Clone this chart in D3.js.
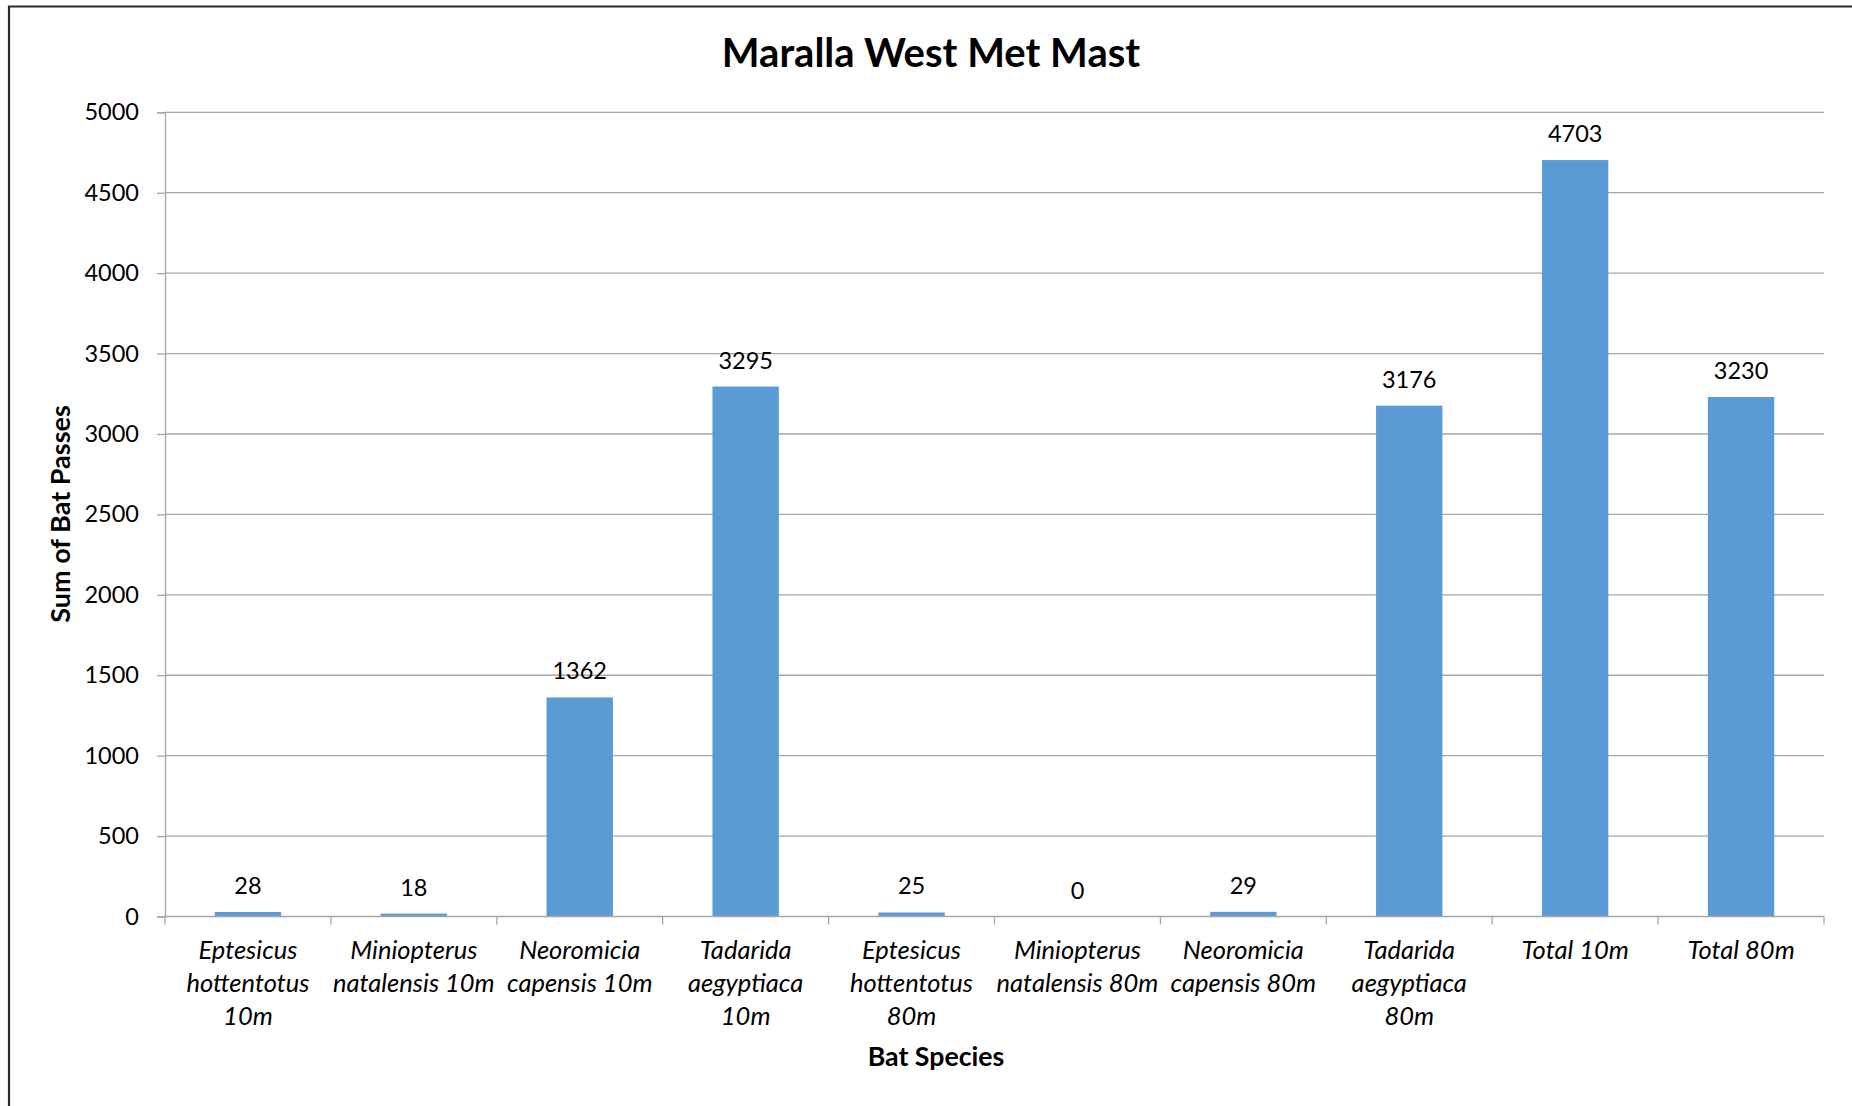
<!DOCTYPE html>
<html>
<head>
<meta charset="utf-8">
<script src="https://cdn.jsdelivr.net/npm/d3@7"></script>
<style>
  html, body { margin: 0; padding: 0; background: #fff; }
  svg { display: block; }
  text { font-family: Lato, "Open Sans", sans-serif; fill: #000; }
</style>
</head>
<body>
<script>
const categories = [
  "Eptesicus hottentotus 10m",
  "Miniopterus natalensis 10m",
  "Neoromicia capensis 10m",
  "Tadarida aegyptiaca 10m",
  "Eptesicus hottentotus 80m",
  "Miniopterus natalensis 80m",
  "Neoromicia capensis 80m",
  "Tadarida aegyptiaca 80m",
  "Total 10m",
  "Total 80m"
];
const categoryLines = [
  ["Eptesicus", "hottentotus", "10m"],
  ["Miniopterus", "natalensis 10m"],
  ["Neoromicia", "capensis 10m"],
  ["Tadarida", "aegyptiaca", "10m"],
  ["Eptesicus", "hottentotus", "80m"],
  ["Miniopterus", "natalensis 80m"],
  ["Neoromicia", "capensis 80m"],
  ["Tadarida", "aegyptiaca", "80m"],
  ["Total 10m"],
  ["Total 80m"]
];
const values = [28, 18, 1362, 3295, 25, 0, 29, 3176, 4703, 3230];
const yTicks = [0, 500, 1000, 1500, 2000, 2500, 3000, 3500, 4000, 4500, 5000];
const title = "Maralla West Met Mast";
const xTitle = "Bat Species";
const yTitle = "Sum of Bat Passes";

const W = 1852, H = 1106;
const plot = { left: 165, right: 1824, top: 112.3, bottom: 916.5 };

const svg = d3.select("body").append("svg").attr("width", W).attr("height", H);

// chart border (left + top visible)
svg.append("path")
  .attr("d", `M9,${H} L9,6.5 L${W},6.5`)
  .attr("fill", "none").attr("stroke", "#2b2b2b").attr("stroke-width", 2.2);

const x = d3.scaleBand().domain(categories).range([plot.left, plot.right])
  .paddingInner(0.6).paddingOuter(0.3);
const y = d3.scaleLinear().domain([0, 5000]).range([plot.bottom, plot.top]);

// gridlines
svg.append("g").selectAll("line").data(yTicks.filter(d => d > 0)).join("line")
  .attr("x1", plot.left).attr("x2", plot.right)
  .attr("y1", d => y(d)).attr("y2", d => y(d))
  .attr("stroke", "#a6a6a6").attr("stroke-width", 1.3);

// y axis
const yAxis = svg.append("g").attr("transform", `translate(${plot.left},0)`)
  .call(d3.axisLeft(y).tickValues(yTicks).tickSize(8).tickPadding(18).tickFormat(d3.format("d")));
yAxis.select(".domain").attr("stroke", "#a6a6a6").attr("stroke-width", 1.3);
yAxis.selectAll(".tick line").attr("stroke", "#a6a6a6").attr("stroke-width", 1.3);
yAxis.selectAll(".tick text").attr("font-size", 23.5).attr("font-family", "Lato, sans-serif").attr("fill", "#000");

// bars
svg.append("g").selectAll("rect").data(values).join("rect")
  .attr("x", (d, i) => x(categories[i]))
  .attr("width", x.bandwidth())
  .attr("y", d => y(d))
  .attr("height", d => y(0) - y(d))
  .attr("fill", "#5b9bd5");

// x axis with ticks at category boundaries
const boundaries = d3.range(categories.length + 1).map(i => plot.left + i * (plot.right - plot.left) / categories.length);
const xg = svg.append("g");
xg.append("line").attr("x1", plot.left).attr("x2", plot.right)
  .attr("y1", y(0)).attr("y2", y(0)).attr("stroke", "#a6a6a6").attr("stroke-width", 1.3);
xg.selectAll("line.tk").data(boundaries).join("line").attr("class", "tk")
  .attr("x1", d => d).attr("x2", d => d)
  .attr("y1", y(0)).attr("y2", y(0) + 8)
  .attr("stroke", "#a6a6a6").attr("stroke-width", 1.3);

// category labels
const lab = svg.append("g").selectAll("text").data(categories).join("text")
  .attr("text-anchor", "middle")
  .attr("font-size", 25.5).attr("font-style", "italic");
lab.each(function(d, i) {
  const cx = x(d) + x.bandwidth() / 2;
  d3.select(this).selectAll("tspan").data(categoryLines[i]).join("tspan")
    .attr("x", cx)
    .attr("y", (l, j) => y(0) + 42 + j * 33)
    .text(l => l);
});

// data labels
svg.append("g").selectAll("text").data(values).join("text")
  .attr("x", (d, i) => x(categories[i]) + x.bandwidth() / 2)
  .attr("y", d => y(d) - 18)
  .attr("text-anchor", "middle").attr("font-size", 23.5)
  .text(d => d);

// titles
svg.append("text").attr("x", 931).attr("y", 67).attr("text-anchor", "middle")
  .attr("font-size", 40).attr("font-weight", "bold").text(title);
svg.append("text").attr("x", 936).attr("y", 1066).attr("text-anchor", "middle")
  .attr("font-size", 26.7).attr("font-weight", "bold").text(xTitle);
svg.append("text").attr("transform", "translate(70,514) rotate(-90)")
  .attr("text-anchor", "middle").attr("font-size", 27).attr("font-weight", "bold").text(yTitle);
</script>
</body>
</html>
